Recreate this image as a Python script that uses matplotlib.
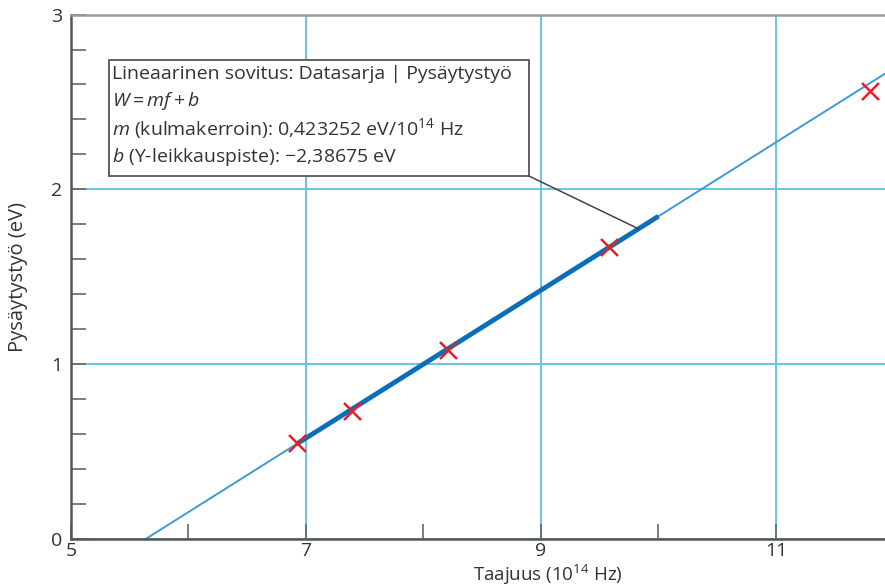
import matplotlib.pyplot as plt
from matplotlib.patches import Rectangle
from matplotlib.ticker import MultipleLocator
import numpy as np

plt.rcParams['font.family'] = ['Open Sans', 'DejaVu Sans']
plt.rcParams['mathtext.fontset'] = 'custom'
plt.rcParams['mathtext.rm'] = 'Open Sans'
plt.rcParams['mathtext.it'] = 'Open Sans:italic'

# Mittaukset: taajuus (10^14 Hz) ja pysäytystyö (eV)
taajuus = [6.92, 7.39, 8.21, 9.58, 11.80]
tyo = [0.55, 0.73, 1.08, 1.67, 2.56]

# Sovituksen parametrit
m = 0.423252
b = -2.38675
sovitus_alue = (6.92, 10.0)

x_ticks = [5, 7, 9, 11]
y_ticks = [0, 1, 2, 3]

tekstit = [
    "Lineaarinen sovitus: Datasarja | Pysäytystyö",
    "$W = mf + b$",
    "$m$ (kulmakerroin): 0,423252 eV/10$^{14}$ Hz",
    "$b$ (Y-leikkauspiste): \u22122,38675 eV",
]

fig = plt.figure(figsize=(8.85, 5.88), dpi=100)
ax = fig.add_axes([0.0802, 0.0838, 0.9294, 0.8914])
ax.set_xlim(5, 12)
ax.set_ylim(0, 3)

ax.grid(True, color='#66c4ec', linewidth=1.4, zorder=0)
ax.set_axisbelow(True)

# ohut suora koko alueelle
x0 = -b / m
xs = np.array([x0, 12])
ax.plot(xs, m * xs + b, color='#3d9ad6', linewidth=1.4, zorder=2)
# paksu osa sovitusalueella
xf = np.array(sovitus_alue)
ax.plot(xf, m * xf + b, color='#0a6fb8', linewidth=3.5, zorder=3,
        solid_capstyle='butt')

ax.scatter(taajuus, tyo, marker='x', s=150, color='#e8202a', linewidths=1.8,
           zorder=4, clip_on=False)

# tekstilaatikko
bx0, by0, bx1, by1 = 5.323, 2.076, 8.898, 2.74
ax.add_patch(Rectangle((bx0, by0), bx1 - bx0, by1 - by0, facecolor='white',
                       edgecolor='#555555', linewidth=1.3, zorder=5))
rivi_y = [2.66, 2.505, 2.345, 2.185]
for t, yy in zip(tekstit, rivi_y):
    ax.text(bx0 + 0.03, yy, t, fontsize=14, color='#333333', va='center',
            ha='left', zorder=6)
xl = 9.83
ax.plot([bx1, xl], [by0, m * xl + b], color='#444444', linewidth=1.1, zorder=5)

ax.set_xticks(x_ticks)
ax.set_yticks(y_ticks)
ax.xaxis.set_minor_locator(MultipleLocator(1))
ax.yaxis.set_minor_locator(MultipleLocator(0.2))
ax.tick_params(which='both', direction='in', color='#666666', width=1.2,
               length=11, labelsize=14, labelcolor='#333333')
ax.tick_params(axis='x', pad=2)
ax.tick_params(axis='y', pad=6)

for s in ['left', 'bottom']:
    ax.spines[s].set_color('#555555')
    ax.spines[s].set_linewidth(1.8)
ax.spines['top'].set_color('#999999')
ax.spines['top'].set_linewidth(1.8)
ax.spines['right'].set_visible(False)

ax.set_xlabel("Taajuus (10$^{14}$ Hz)", fontsize=13.5, color='#333333')
ax.xaxis.set_label_coords(0.58, -0.046)
ax.set_ylabel("Pysäytystyö (eV)", fontsize=14.5, color='#333333')
ax.yaxis.set_label_coords(-0.052, 0.5)

fig.savefig('out.png', dpi=100)
